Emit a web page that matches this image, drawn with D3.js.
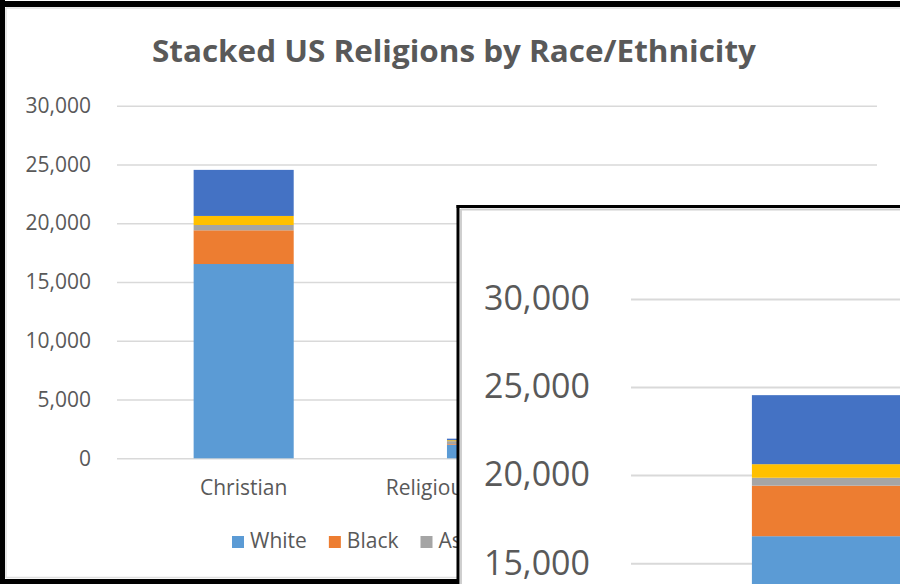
<!DOCTYPE html>
<html>
<head>
<meta charset="utf-8">
<script src="https://cdn.jsdelivr.net/npm/d3@7"></script>
<style>
  html, body { margin: 0; padding: 0; background: #fff; }
  svg { display: block; }
  text { font-family: "Open Sans", sans-serif; fill: #595959; }
</style>
</head>
<body>
<svg id="chart" width="900" height="584"></svg>
<script>
// ---- data ----
const title = "Stacked US Religions by Race/Ethnicity";
const categories = ["Christian", "Religiously Unaffiliated", "Non-Christian Faiths"];
const seriesNames = ["White", "Black", "Asian", "Hispanic", "Other"];
const seriesColors = ["#5B9BD5", "#ED7D31", "#A5A5A5", "#FFC000", "#4472C4"];
const whiteVals    = [16530, 1150, 700];
const blackVals    = [2870, 60, 150];
const asianVals    = [450, 250, 300];
const hispanicVals = [770, 80, 120];
const otherVals    = [3920, 130, 200];
const yTicks = [0, 5000, 10000, 15000, 20000, 25000, 30000];

const valueArrays = [whiteVals, blackVals, asianVals, hispanicVals, otherVals];
const rows = categories.map((c, i) => {
  const r = { category: c };
  seriesNames.forEach((s, k) => { r[s] = valueArrays[k][i]; });
  return r;
});
const stacked = d3.stack().keys(seriesNames)(rows);
const color = d3.scaleOrdinal().domain(seriesNames).range(seriesColors);

const svg = d3.select("#chart");
const H = 584;

function drawChart(g, o) {
  const x = d3.scaleBand().domain(categories).range(o.xr)
    .paddingInner(0.605).paddingOuter(0.3025);
  const y = d3.scaleLinear().domain([0, 30000]).range(o.yr);

  // only ticks that fall inside the picture
  const ticks = yTicks.filter(t => y(t) < H);
  const yAxis = d3.axisLeft(y)
    .tickValues(ticks)
    .tickFormat(d3.format(","))
    .tickSize(-(o.xr[1] - o.xr[0]))
    .tickPadding(o.pad);
  const ya = g.append("g").attr("transform", `translate(${o.xr[0]},0)`).call(yAxis);
  ya.select(".domain").remove();
  ya.selectAll(".tick line").attr("stroke", "#D9D9D9").attr("stroke-width", o.grid);
  ya.selectAll(".tick text").attr("font-size", o.font).attr("fill", "#595959")
    .attr("font-family", "'Open Sans', sans-serif");

  g.append("g").selectAll("g").data(stacked).join("g")
    .attr("fill", d => color(d.key))
    .selectAll("rect").data(d => d).join("rect")
    .attr("x", d => x(d.data.category))
    .attr("width", x.bandwidth())
    .attr("y", d => y(d[1]))
    .attr("height", d => y(d[0]) - y(d[1]));

  if (o.catLabels) {
    const xAxis = d3.axisBottom(x).tickSize(0).tickPadding(o.xpad);
    const xa = g.append("g").attr("transform", `translate(0,${y(0)})`).call(xAxis);
    xa.select(".domain").remove();
    xa.selectAll(".tick text").attr("font-size", o.font).attr("fill", "#595959")
      .attr("font-family", "'Open Sans', sans-serif");
  }
  return { x, y };
}

// ---- background ----
svg.append("rect").attr("x", 0).attr("y", 0).attr("width", 900).attr("height", 584).attr("fill", "#fff");

// ---- main chart ----
const main = svg.append("g");
main.append("text")
  .attr("x", 454).attr("y", 62)
  .attr("text-anchor", "middle")
  .attr("font-size", 30).attr("font-weight", "bold")
  .attr("textLength", 604).attr("lengthAdjust", "spacingAndGlyphs")
  .text(title);

drawChart(main, { xr: [117, 877], yr: [458.3, 105.7], pad: 26, xpad: 22, font: 21, grid: 1.5, catLabels: true });

// legend
const legend = main.append("g").attr("transform", "translate(232,0)");
let lx = 0;
seriesNames.forEach((s) => {
  const it = legend.append("g").attr("transform", `translate(${lx},0)`);
  it.append("rect").attr("x", 0).attr("y", 536).attr("width", 12).attr("height", 12).attr("fill", color(s));
  const t = it.append("text").attr("x", 18).attr("y", 548).attr("font-size", 21).text(s);
  const w = t.node().getComputedTextLength();
  lx += 18 + w + 22;
});

// borders of the outer picture
svg.append("rect").attr("x", 0).attr("y", 1).attr("width", 900).attr("height", 6).attr("fill", "#000");
svg.append("rect").attr("x", 0).attr("y", 0).attr("width", 5).attr("height", 584).attr("fill", "#000");
svg.append("rect").attr("x", 0).attr("y", 579).attr("width", 900).attr("height", 5).attr("fill", "#000");
svg.append("line").attr("x1", 6).attr("x2", 900).attr("y1", 8).attr("y2", 8).attr("stroke", "#E0E0E0").attr("stroke-width", 1.5);
svg.append("line").attr("x1", 6).attr("x2", 6).attr("y1", 8).attr("y2", 578).attr("stroke", "#E0E0E0").attr("stroke-width", 1.5);
svg.append("line").attr("x1", 6).attr("x2", 900).attr("y1", 577.5).attr("y2", 577.5).attr("stroke", "#E0E0E0").attr("stroke-width", 1.5);

// ---- magnified inset ----
const defs = svg.append("defs");
defs.append("clipPath").attr("id", "insetClip")
  .append("rect").attr("x", 459).attr("y", 207).attr("width", 441).attr("height", 377);
const inset = svg.append("g").attr("clip-path", "url(#insetClip)");
inset.append("rect").attr("x", 459).attr("y", 207).attr("width", 441).attr("height", 377).attr("fill", "#fff");
drawChart(inset, { xr: [631, 1830], yr: [827.3, 299], pad: 41, xpad: 33, font: 34, grid: 2, catLabels: false });

svg.append("line").attr("x1", 461).attr("x2", 900).attr("y1", 209.5).attr("y2", 209.5).attr("stroke", "#CFCFCF").attr("stroke-width", 2);
svg.append("line").attr("x1", 461).attr("x2", 461).attr("y1", 209).attr("y2", 584).attr("stroke", "#CFCFCF").attr("stroke-width", 2);
svg.append("line").attr("x1", 456.5).attr("x2", 900).attr("y1", 206.5).attr("y2", 206.5).attr("stroke", "#000").attr("stroke-width", 3);
svg.append("line").attr("x1", 458).attr("x2", 458).attr("y1", 205).attr("y2", 584).attr("stroke", "#000").attr("stroke-width", 3);
</script>
</body>
</html>
